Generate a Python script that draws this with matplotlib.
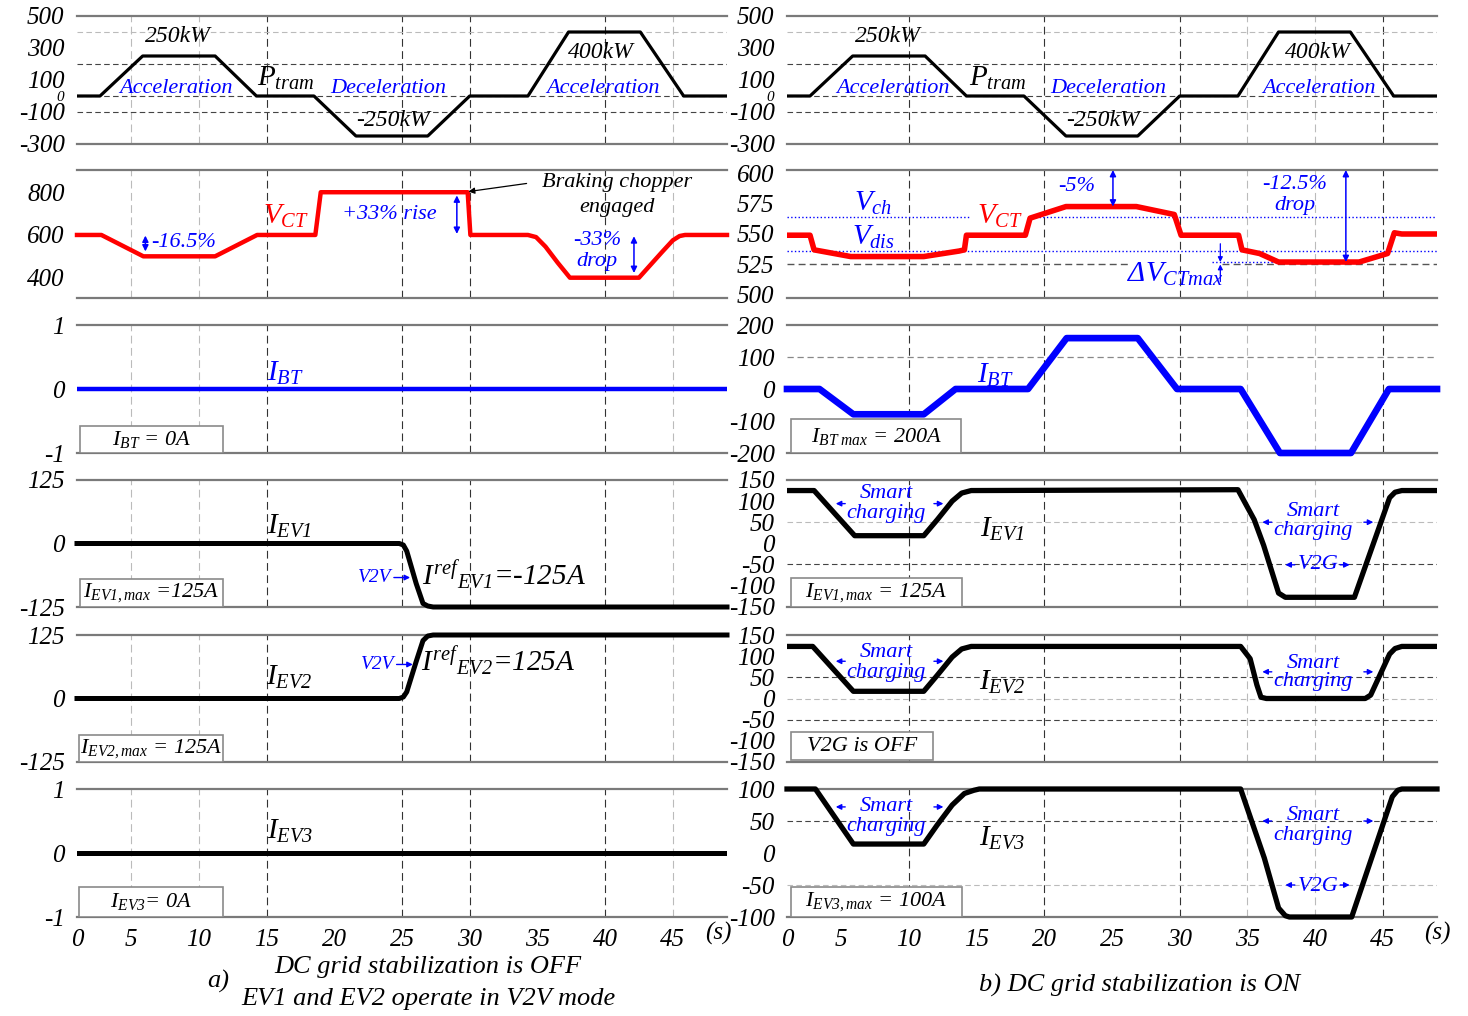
import matplotlib.pyplot as plt
import matplotlib.patches as mpatches

plt.rcParams['font.family'] = 'Liberation Serif'
plt.rcParams['font.style'] = 'italic'
plt.rcParams['mathtext.fontset'] = 'custom'
plt.rcParams['mathtext.rm'] = 'Liberation Serif:italic'
plt.rcParams['mathtext.it'] = 'Liberation Serif:italic'
plt.rcParams['mathtext.bf'] = 'Liberation Serif:italic:bold'

# time axis: plot starts at ~1 s, first tick is labelled 0 as in the original
x_ticks = [1, 5, 10, 15, 20, 25, 30, 35, 40, 45]
x_ticklabels = ['0', '5', '10', '15', '20', '25', '30', '35', '40', '45']

# tram power profile (kW), same for both cases
t_p = [1, 2.7, 5.85, 11.2, 14.25, 18.5, 21.6, 26.9, 30, 34.3, 37.3, 42.6, 45.8, 49]
p_tram = [0, 0, 250, 250, 0, 0, -250, -250, 0, 0, 400, 400, 0, 0]

# ---- a) DC grid stabilization OFF
t_vct_a = [1, 2.8, 5.9, 11.2, 14.3, 18.6, 19.0, 29.85, 30.05, 34.3, 34.9, 35.6, 36.5, 37.4,
           42.5, 44.2, 45.0, 45.5, 45.9, 49]
vct_a = [600, 600, 500, 500, 600, 600, 800, 800, 600, 600, 590, 545, 470, 400,
         400, 520, 575, 595, 600, 600]
t_flat = [1, 49]
ibt_a = [0, 0]
t_ev_a = [1, 24.8, 25.1, 25.35, 26.05, 26.55, 26.9, 27.3, 49]
iev1_a = [0, 0, -3, -15, -79, -118, -123, -125, -125]
iev2_a = [0, 0, 3, 13, 73, 114, 123, 125, 125]
iev3_a = [0, 0]

# ---- b) DC grid stabilization ON
t_vct_b = [1, 2.7, 3.0, 5.7, 11.1, 13.7, 14.1, 14.25, 18.6, 18.95, 21.6, 26.8, 29.6, 30.1,
           34.35, 34.6, 35.9, 37.3, 43.25, 45.35, 45.85, 46.4, 49]
vct_b = [549, 549, 537, 531.5, 531.5, 536, 537, 549, 549, 563, 572.5, 572.5, 566, 549,
         549, 537, 534, 527, 527, 534, 551, 550, 550]
v_ch = 563.75
v_dis = 536.25
v_ref = 525
v_min = 527

t_ibt_b = [1, 3.4, 5.9, 11.1, 13.45, 18.8, 21.65, 26.9, 29.8, 34.5, 37.4, 42.65, 45.45, 49]
ibt_b = [0, 0, -79, -79, 0, 0, 159, 159, 0, 0, -200, -200, 0, 0]

t_ev1_b = [1, 3.0, 6.0, 11.1, 12.1, 13.2, 13.9, 14.6, 34.3, 35.5, 36.2, 37.3, 37.8, 42.9,
           45.5, 45.9, 46.4, 49]
iev1_b = [125, 125, 18, 18, 56, 100, 119, 125, 127, 56, -5, -118, -128, -128,
          108, 121, 125, 125]
t_ev2_b = [1, 2.9, 5.9, 11.1, 12.1, 13.2, 13.9, 14.6, 34.5, 35.2, 35.7, 36.0, 36.4, 43.7,
           44.1, 45.5, 45.9, 46.4, 49]
iev2_b = [123, 123, 17, 17, 55, 98, 117, 123, 123, 94, 32, 3, 0, 0,
          8, 105, 118, 123, 123]
t_ev3_b = [1, 3.1, 5.9, 11.1, 12.1, 13.2, 14.1, 14.8, 15.2, 34.5, 36.25, 37.3, 37.8, 38.1,
           42.7, 45.7, 46.1, 46.4, 49]
iev3_b = [100, 100, 14, 14, 44, 75, 93, 98, 100, 100, -8, -86, -98, -100,
          -100, 88, 98, 100, 100]

W, H = 1468, 1016
fig = plt.figure(figsize=(W / 100, H / 100), dpi=100)

row_top = [16, 170, 325, 480, 635, 789]
row_bot = [144, 298, 453, 607, 762, 917]


def add_ax(x0, x1, r):
    return fig.add_axes([x0 / W, 1 - row_bot[r] / H, (x1 - x0) / W, (row_bot[r] - row_top[r]) / H])


def style(ax, ylim, yticks, dark_v, light_v, dark_h=(), light_h=(), bottom=False):
    ax.set_xlim(1, 49)
    ax.set_ylim(*ylim)
    ax.set_yticks(yticks)
    ax.set_yticklabels([str(v) for v in yticks])
    ax.set_xticks(x_ticks)
    if bottom:
        ax.set_xticklabels(x_ticklabels)
    else:
        ax.set_xticklabels([])
    ax.tick_params(length=0, labelsize=18, pad=9)
    for s in ['left', 'right']:
        ax.spines[s].set_visible(False)
    for s in ['top', 'bottom']:
        ax.spines[s].set_color('#7a7a7a')
        ax.spines[s].set_linewidth(1.6)
    for v in dark_v:
        ax.axvline(v, color='#333333', lw=0.8, ls=(0, (7, 4)), zorder=0)
    for v in light_v:
        ax.axvline(v, color='#bbbbbb', lw=0.8, ls=(0, (7, 4)), zorder=0)
    for v in dark_h:
        ax.axhline(v, color='#444444', lw=0.8, ls=(0, (5, 3)), zorder=0)
    for v in light_h:
        ax.axhline(v, color='#bbbbbb', lw=0.8, ls=(0, (5, 3)), zorder=0)


def box(ax, x0, x1, y0, y1, label):
    ax.add_patch(mpatches.Rectangle((x0, y0), x1 - x0, y1 - y0, facecolor='white',
                                    edgecolor='#8a8a8a', lw=1.2, zorder=4))
    ax.text((x0 + x1) / 2, (y0 + y1) / 2, label, ha='center', va='center', fontsize=16, zorder=5)


def darrow(ax, x, y0, y1):
    ax.annotate('', xy=(x, y1), xytext=(x, y0),
                arrowprops=dict(arrowstyle='<|-|>', color='blue', lw=1.1, mutation_scale=9,
                                shrinkA=0, shrinkB=0))


def sarrow(ax, x0, x1, y):
    ax.annotate('', xy=(x1, y), xytext=(x0, y),
                arrowprops=dict(arrowstyle='-|>', color='blue', lw=1.0, mutation_scale=8,
                                shrinkA=0, shrinkB=0))


def blue(ax, x, y, s, fs=16):
    ax.text(x, y, s, color='blue', ha='center', va='center', fontsize=fs)


def black(ax, x, y, s, fs=17):
    ax.text(x, y, s, color='black', ha='center', va='center', fontsize=fs)


x_left, x_right = (77, 727), (787, 1437)
dark_a, light_a = [15, 25, 30, 40], [5, 10, 45]
dark_b, light_b = [10, 20, 30, 45], [35, 40]

# ---------------- left column
ax = add_ax(*x_left, 0)
style(ax, (-300, 500), [500, 300, 100, 0, -100, -300], dark_a, light_a, [200, 0, -100], [400])
ax.get_yticklabels()[3].set_fontsize(11)
ax.plot(t_p, p_tram, color='black', lw=2.3, zorder=3)
black(ax, 8.46, 369, '250kW')
blue(ax, 8.3, 44, 'Acceleration')
black(ax, 16.4, 112, r'$P_{tram}$', 21)
blue(ax, 24.0, 44, 'Deceleration')
black(ax, 24.3, -156, '-250kW')
black(ax, 39.7, 275, '400kW')
blue(ax, 39.85, 44, 'Acceleration')

ax = add_ax(*x_left, 1)
style(ax, (305, 904), [800, 600, 400], dark_a, light_a)
ax.plot(t_vct_a, vct_a, color='red', lw=3.2, zorder=3, clip_on=False)
ax.text(16.4, 685, r'$V_{CT}$', color='red', ha='center', va='center', fontsize=21)
blue(ax, 24.1, 695, '+33% rise')
darrow(ax, 29.05, 785, 605)
blue(ax, 8.9, 563, '-16.5%')
darrow(ax, 6.05, 597, 523)
black(ax, 40.9, 845, 'Braking chopper', 16)
black(ax, 40.9, 728, 'engaged', 16)
ax.annotate('', xy=(29.9, 803), xytext=(34.2, 841),
            arrowprops=dict(arrowstyle='-|>', color='black', lw=0.9, mutation_scale=9,
                            shrinkA=0, shrinkB=0))
blue(ax, 39.4, 573, '-33%')
blue(ax, 39.4, 475, 'drop')
darrow(ax, 42.13, 594, 422)

ax = add_ax(*x_left, 2)
style(ax, (-1, 1), [1, 0, -1], dark_a, light_a)
ax.plot(t_flat, ibt_a, color='blue', lw=3.2, zorder=3)
blue(ax, 16.4, 0.25, r'$I_{BT}$', 21)
box(ax, 1.22, 11.8, -1, -0.58, r'$I_{BT}$ = 0A')

ax = add_ax(*x_left, 3)
style(ax, (-125, 122), [125, 0, -125], dark_a, light_a)
ax.plot(t_ev_a, iev1_a, color='black', lw=3.6, zorder=3, clip_on=False)
black(ax, 16.7, 34, r'$I_{EV1}$', 21)
blue(ax, 23.0, -67, 'V2V', 14)
sarrow(ax, 24.4, 25.6, -67)
black(ax, 32.5, -62, r'$I^{ref}{}_{EV1}$=-125A', 21)
box(ax, 1.22, 11.8, -125, -69, r'$I_{EV1,max}$ =125A')

ax = add_ax(*x_left, 4)
style(ax, (-125, 125), [125, 0, -125], dark_a, light_a)
ax.plot(t_ev_a, iev2_a, color='black', lw=3.6, zorder=3, clip_on=False)
black(ax, 16.7, 41, r'$I_{EV2}$', 21)
blue(ax, 23.2, 67, 'V2V', 14)
sarrow(ax, 24.6, 25.8, 67)
black(ax, 32.1, 72, r'$I^{ref}{}_{EV2}$=125A', 21)
box(ax, 1.15, 11.8, -125, -72, r'$I_{EV2,max}$ = 125A')

ax = add_ax(*x_left, 5)
style(ax, (-1, 1), [1, 0, -1], dark_a, light_a, bottom=True)
ax.plot(t_flat, iev3_a, color='black', lw=3.6, zorder=3)
black(ax, 16.7, 0.33, r'$I_{EV3}$', 21)
box(ax, 1.15, 11.8, -1, -0.53, r'$I_{EV3}$= 0A')
ax.text(48.4, -0.125, '(s)', transform=ax.get_xaxis_transform(), ha='center', va='center',
        fontsize=18)

# ---------------- right column
ax = add_ax(*x_right, 0)
style(ax, (-300, 500), [500, 300, 100, 0, -100, -300], dark_b, light_b, [200, 0, -100], [400])
ax.get_yticklabels()[3].set_fontsize(11)
ax.plot(t_p, p_tram, color='black', lw=2.3, zorder=3)
black(ax, 8.46, 369, '250kW')
blue(ax, 8.8, 44, 'Acceleration')
black(ax, 16.6, 112, r'$P_{tram}$', 21)
blue(ax, 24.7, 44, 'Deceleration')
black(ax, 24.3, -156, '-250kW')
black(ax, 40.2, 275, '400kW')
blue(ax, 40.3, 44, 'Acceleration')

ax = add_ax(*x_right, 1)
style(ax, (497.5, 602.5), [600, 575, 550, 525, 500], dark_b, light_b)
ax.hlines(v_ref, 1, 26.3, color='#555555', lw=1.0, ls=(0, (5, 3)), zorder=1)
ax.hlines(v_ref, 33.1, 49, color='#555555', lw=1.0, ls=(0, (5, 3)), zorder=1)
ax.hlines(v_ch, 1, 14.6, color='blue', lw=1.0, ls=':', zorder=1)
ax.hlines(v_ch, 18.8, 49, color='blue', lw=1.0, ls=':', zorder=1)
ax.hlines(v_dis, 1, 49, color='blue', lw=1.0, ls=':', zorder=1)
ax.hlines(v_min, 32.4, 37.3, color='blue', lw=1.0, ls=':', zorder=1)
ax.plot(t_vct_b, vct_b, color='red', lw=4.0, zorder=3)
blue(ax, 7.35, 575.5, r'$V_{ch}$', 21)
blue(ax, 7.35, 547, r'$V_{dis}$', 21)
ax.text(16.7, 564.5, r'$V_{CT}$', color='red', ha='center', va='center', fontsize=21)
blue(ax, 22.4, 589, '-5%')
darrow(ax, 25.07, 602.5, 572.5)
blue(ax, 38.5, 591, '-12.5%')
blue(ax, 38.5, 573.5, 'drop')
darrow(ax, 42.27, 602.5, 527)
blue(ax, 29.65, 516.5, r'$\Delta V_{CTmax}$', 21)
ax.annotate('', xy=(33.0, v_min), xytext=(33.0, 542),
            arrowprops=dict(arrowstyle='-|>', color='blue', lw=0.9, mutation_scale=7,
                            shrinkA=0, shrinkB=0))
ax.annotate('', xy=(33.0, v_ref), xytext=(33.0, 511),
            arrowprops=dict(arrowstyle='-|>', color='blue', lw=0.9, mutation_scale=7,
                            shrinkA=0, shrinkB=0))

ax = add_ax(*x_right, 2)
style(ax, (-200, 200), [200, 100, 0, -100, -200], dark_b, light_b, [], [])
ax.axhline(100, color='#888888', lw=0.9, ls=(0, (5, 3)), zorder=0)
ax.plot(t_ibt_b, ibt_b, color='blue', lw=4.8, zorder=3, clip_on=False)
blue(ax, 16.4, 44, r'$I_{BT}$', 21)
box(ax, 1.3, 13.85, -200, -94, r'$I_{BT\ max}$ = 200A')

ax = add_ax(*x_right, 3)
style(ax, (-151, 150), [150, 100, 50, 0, -50, -100, -150], dark_b, light_b, [-50], [50])
ax.plot(t_ev1_b, iev1_b, color='black', lw=3.8, zorder=3)
blue(ax, 8.3, 118, 'Smart')
blue(ax, 8.3, 70, 'charging')
sarrow(ax, 5.3, 4.6, 94)
sarrow(ax, 11.85, 12.55, 94)
black(ax, 16.9, 32, r'$I_{EV1}$', 21)
blue(ax, 39.85, 75, 'Smart')
blue(ax, 39.85, 30, 'charging')
sarrow(ax, 36.8, 36.1, 50)
sarrow(ax, 43.6, 44.3, 50)
blue(ax, 40.2, -51, 'V2G')
sarrow(ax, 38.5, 37.8, -51)
sarrow(ax, 41.85, 42.55, -51)
box(ax, 1.3, 13.9, -151, -82, r'$I_{EV1,max}$ = 125A')

ax = add_ax(*x_right, 4)
style(ax, (-145, 147.5), [150, 100, 50, 0, -50, -100, -150], dark_b, light_b, [50, -50], [0])
ax.plot(t_ev2_b, iev2_b, color='black', lw=3.8, zorder=3)
blue(ax, 8.3, 108, 'Smart')
blue(ax, 8.3, 62, 'charging')
sarrow(ax, 5.3, 4.6, 88)
sarrow(ax, 11.85, 12.55, 88)
black(ax, 16.9, 37, r'$I_{EV2}$', 21)
blue(ax, 39.85, 83, 'Smart')
blue(ax, 39.85, 39, 'charging')
sarrow(ax, 36.8, 36.1, 63)
sarrow(ax, 43.6, 44.3, 63)
box(ax, 1.3, 11.8, -145, -80, 'V2G is OFF')

ax = add_ax(*x_right, 5)
style(ax, (-100, 100), [100, 50, 0, -50, -100], dark_b, light_b, [50], [-50], bottom=True)
ax.plot(t_ev3_b, iev3_b, color='black', lw=3.8, zorder=3, clip_on=False)
blue(ax, 8.3, 73, 'Smart')
blue(ax, 8.3, 42, 'charging')
sarrow(ax, 5.3, 4.6, 72)
sarrow(ax, 11.85, 12.55, 72)
black(ax, 16.9, 23, r'$I_{EV3}$', 21)
blue(ax, 39.85, 59, 'Smart')
blue(ax, 39.85, 28, 'charging')
sarrow(ax, 36.8, 36.1, 50)
sarrow(ax, 43.6, 44.3, 50)
blue(ax, 40.2, -52, 'V2G')
sarrow(ax, 38.5, 37.8, -50)
sarrow(ax, 41.85, 42.55, -50)
box(ax, 1.3, 13.9, -100, -53, r'$I_{EV3,max}$ = 100A')
ax.text(49.0, -0.125, '(s)', transform=ax.get_xaxis_transform(), ha='center', va='center',
        fontsize=18)

# captions
fig.text(428 / W, 1 - 967 / H, 'DC grid stabilization is OFF', ha='center', va='center', fontsize=19)
fig.text(218 / W, 1 - 981 / H, 'a)', ha='center', va='center', fontsize=19)
fig.text(428 / W, 1 - 999 / H, 'EV1 and EV2 operate in V2V mode', ha='center', va='center', fontsize=19)
fig.text(1140 / W, 1 - 985 / H, 'b) DC grid stabilization is ON', ha='center', va='center', fontsize=19)

fig.savefig('out.png', dpi=100)
